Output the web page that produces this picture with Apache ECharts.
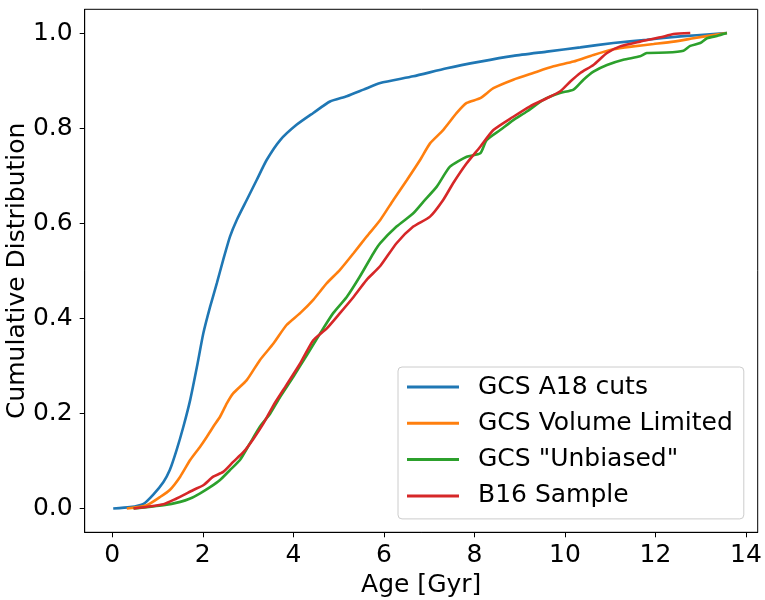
<!DOCTYPE html>
<html>
<head>
<meta charset="utf-8">
<script src="https://cdn.jsdelivr.net/npm/echarts@6/dist/echarts.min.js"></script>
<style>
html,body{margin:0;padding:0;background:#fff;}
#c{width:765px;height:600px;}
</style>
</head>
<body>
<div id="c"></div>
<script>
// ---- data ----
const seriesNames = ['GCS A18 cuts', 'GCS Volume Limited', 'GCS "Unbiased"', 'B16 Sample'];
const seriesColors = ['#1f77b4', '#ff7f0e', '#2ca02c', '#d62728'];

const a18Age = [0.02,0.39,0.69,0.91,1.13,1.27,1.42,1.57,1.72,1.87,2.01,2.16,2.31,2.45,2.60,2.75,2.97,3.19,3.41,3.71,4.07,4.44,4.81,5.18,5.55,5.92,6.65,7.39,8.13,8.86,9.60,10.34,11.07,11.81,12.55,13.28,13.58];
const a18Cdf = [0.000,0.003,0.010,0.030,0.056,0.081,0.123,0.172,0.228,0.298,0.368,0.424,0.474,0.523,0.572,0.607,0.649,0.691,0.733,0.775,0.807,0.832,0.856,0.867,0.881,0.895,0.909,0.926,0.940,0.952,0.961,0.970,0.979,0.986,0.993,0.998,1.000];

const volAge = [0.32,0.76,1.05,1.27,1.50,1.72,1.94,2.09,2.23,2.38,2.53,2.67,2.97,3.26,3.56,3.85,4.15,4.44,4.74,5.03,5.33,5.62,5.92,6.21,6.51,6.80,7.02,7.31,7.61,7.83,8.13,8.42,8.86,9.30,9.75,10.19,10.63,11.07,11.51,11.96,12.40,12.84,13.28,13.58];
const volCdf = [0.000,0.007,0.024,0.039,0.067,0.102,0.130,0.151,0.172,0.193,0.221,0.242,0.270,0.312,0.347,0.386,0.411,0.439,0.474,0.502,0.537,0.572,0.607,0.649,0.691,0.733,0.768,0.796,0.832,0.853,0.863,0.884,0.902,0.916,0.930,0.940,0.954,0.966,0.972,0.977,0.982,0.989,0.996,1.000];

const unbAge = [0.47,1.13,1.50,1.72,1.94,2.16,2.38,2.60,2.82,3.04,3.26,3.49,3.71,4.00,4.30,4.59,4.88,5.18,5.47,5.77,5.92,6.28,6.65,6.87,7.17,7.46,7.83,8.13,8.27,8.57,8.86,9.16,9.53,9.89,10.19,10.41,10.63,10.93,11.29,11.66,11.81,12.25,12.62,12.77,12.99,13.14,13.36,13.58];
const unbCdf = [0.000,0.007,0.014,0.021,0.032,0.045,0.060,0.081,0.102,0.137,0.172,0.200,0.235,0.277,0.323,0.368,0.411,0.445,0.488,0.537,0.558,0.593,0.621,0.645,0.677,0.719,0.740,0.747,0.775,0.796,0.817,0.835,0.860,0.874,0.881,0.902,0.919,0.933,0.944,0.951,0.958,0.959,0.963,0.973,0.979,0.989,0.994,1.000];

const b16Age = [0.47,1.13,1.42,1.57,1.79,2.01,2.23,2.45,2.67,2.90,3.12,3.34,3.56,3.85,4.15,4.44,4.74,5.03,5.33,5.62,5.92,6.28,6.65,7.02,7.31,7.53,7.83,8.13,8.42,8.86,9.23,9.60,9.89,10.12,10.34,10.63,10.93,11.22,11.66,12.11,12.40,12.77];
const b16Cdf = [0.000,0.009,0.021,0.028,0.039,0.049,0.067,0.077,0.098,0.119,0.147,0.179,0.217,0.260,0.305,0.354,0.379,0.411,0.445,0.481,0.510,0.558,0.593,0.614,0.649,0.684,0.726,0.761,0.796,0.824,0.846,0.863,0.877,0.898,0.916,0.933,0.958,0.972,0.982,0.991,0.998,1.000];

const xTicks = [0, 2, 4, 6, 8, 10, 12, 14];
const yTicks = [0, 0.2, 0.4, 0.6, 0.8, 1.0];

// ---- build ----
const ages = [a18Age, volAge, unbAge, b16Age];
const cdfs = [a18Cdf, volCdf, unbCdf, b16Cdf];
const FONT = 'DejaVu Sans';

const series = seriesNames.map((name, i) => ({
  name: name,
  type: 'line',
  data: ages[i].map((a, k) => [a, cdfs[i][k]]),
  showSymbol: false,
  symbol: 'none',
  smooth: 0.2,
  lineStyle: { color: seriesColors[i], width: 2.6 },
  itemStyle: { color: seriesColors[i] },
  animation: false,
  z: 2 + i
}));

const chart = echarts.init(document.getElementById('c'), null, { renderer: 'canvas' });
chart.setOption({
  animation: false,
  backgroundColor: '#fff',
  grid: {
    left: 84.7, right: 7.3, top: 9.3, bottom: 67.7,
    containLabel: false, outerBoundsMode: 'none',
    show: true, borderColor: '#000', borderWidth: 1, backgroundColor: 'transparent'
  },
  xAxis: {
    type: 'value', min: -0.61, max: 14.26,
    name: 'Age [Gyr]', nameLocation: 'middle', nameGap: 41, nameMoveOverlap: false,
    nameTextStyle: { fontFamily: FONT, fontSize: 25, color: '#000' },
    axisLine: { show: true, onZero: false, lineStyle: { color: '#000', width: 1 } },
    axisTick: { show: true, length: 5, inside: false, customValues: xTicks, lineStyle: { color: '#000' } },
    axisLabel: { customValues: xTicks, fontFamily: FONT, fontSize: 25, color: '#000', margin: 11,
      formatter: v => String(v) },
    splitLine: { show: false }
  },
  yAxis: {
    type: 'value', min: -0.05, max: 1.05,
    name: 'Cumulative Distribution', nameLocation: 'middle', nameGap: 55, nameMoveOverlap: false,
    nameTextStyle: { fontFamily: FONT, fontSize: 25, color: '#000' },
    axisLine: { show: true, onZero: false, lineStyle: { color: '#000', width: 1 } },
    axisTick: { show: true, length: 5, inside: false, customValues: yTicks, lineStyle: { color: '#000' } },
    axisLabel: { customValues: yTicks, fontFamily: FONT, fontSize: 25, color: '#000', margin: 12,
      formatter: v => v.toFixed(1) },
    splitLine: { show: false }
  },
  legend: {
    orient: 'vertical',
    left: 398, top: 367,
    padding: [6, 11, 9, 9],
    backgroundColor: 'rgba(255,255,255,0.8)',
    borderColor: '#cccccc', borderWidth: 1, borderRadius: 4,
    icon: 'rect', itemWidth: 52, itemHeight: 3, itemGap: 8.3,
    textStyle: { fontFamily: FONT, fontSize: 25, color: '#000', lineHeight: 28, padding: [0, 0, 0, 14] },
    data: seriesNames,
    selectedMode: false
  },
  series: series
});
</script>
</body>
</html>
